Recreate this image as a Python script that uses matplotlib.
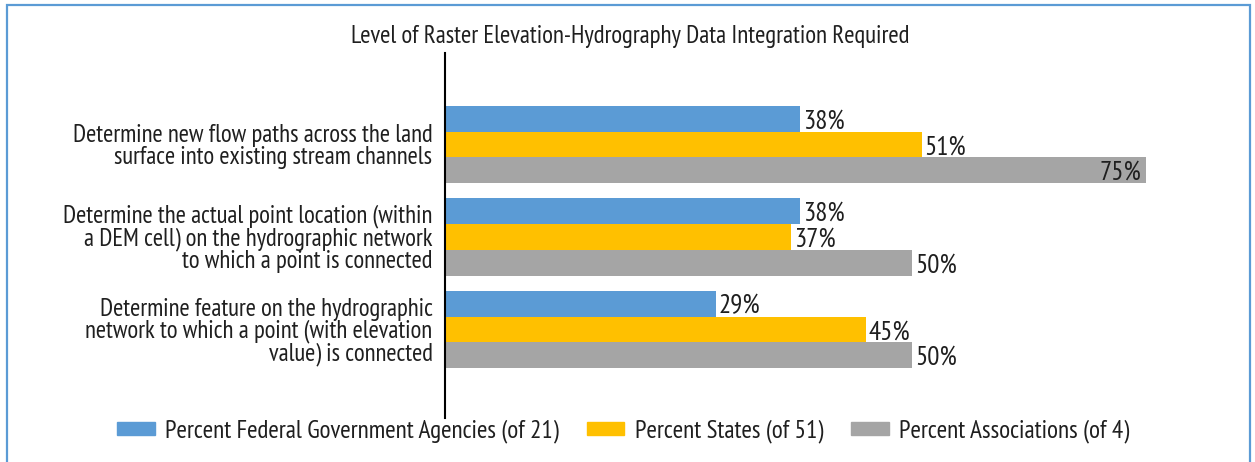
import numpy as np
import matplotlib.pyplot as plt
from matplotlib.patches import Rectangle, Patch

# --- data ---
categories = [
    "Determine new flow paths across the land\nsurface into existing stream channels",
    "Determine the actual point location (within\na DEM cell) on the hydrographic network\nto which a point is connected",
    "Determine feature on the hydrographic\nnetwork to which a point (with elevation\nvalue) is connected",
]
series_names = [
    "Percent Federal Government Agencies (of 21)",
    "Percent States (of 51)",
    "Percent Associations (of 4)",
]
federal = [38, 38, 29]
states = [51, 37, 45]
associations = [75, 50, 50]
colors = ["#5B9BD5", "#FFC000", "#A5A5A5"]
title = "Level of Raster Elevation-Hydrography Data Integration Required"

plt.rcParams['font.family'] = ['PT Sans Narrow', 'Liberation Sans', 'DejaVu Sans']
txt = "#1f1f1f"

W, H = 1255, 462
fig = plt.figure(figsize=(W / 100, H / 100), dpi=100)

# chart border
fig.patches.append(Rectangle((7 / W, -0.05), 1243 / W, 1.04, transform=fig.transFigure,
                             fill=False, edgecolor="#5B9BD5", linewidth=1.6))

ax = fig.add_axes([445 / W, 44 / H, 701 / W, 365 / H])
y = np.arange(len(categories))
bh = 0.278
values = [federal, states, associations]
for i, (vals, c) in enumerate(zip(values, colors)):
    pos = y + (i - 1) * bh
    ax.barh(pos, vals, height=bh, color=c)
    for p, v in zip(pos, vals):
        if v >= 70:
            ax.text(v - 0.5, p + 0.03, f"{v}%", ha="right", va="center", fontsize=19.5, color=txt)
        else:
            ax.text(v + 0.3, p + 0.03, f"{v}%", ha="left", va="center", fontsize=19.5, color=txt)

ax.set_xlim(0, 75)
ax.set_ylim(2.957, -0.989)
ax.set_yticks(y)
ax.set_yticklabels(categories, fontsize=17.8, ha="right", linespacing=0.95, color=txt)
ax.tick_params(axis="y", length=0, pad=9)
ax.set_xticks([])
for s in ["top", "right", "bottom"]:
    ax.spines[s].set_visible(False)
ax.spines["left"].set_linewidth(1.5)
ax.spines["left"].set_color("#000000")

fig.text(630 / W, 1 - 37 / H, title, ha="center", va="center", fontsize=17.9, color=txt)

handles = [Patch(color=c) for c in colors]
fig.legend(handles, series_names, loc="center", bbox_to_anchor=(623 / W, 1 - 431 / H),
           ncol=3, frameon=False, fontsize=18.2, handlelength=1.5, handleheight=0.4,
           handletextpad=0.4, columnspacing=1.1, labelcolor=txt)

fig.savefig("out.png", dpi=100)
